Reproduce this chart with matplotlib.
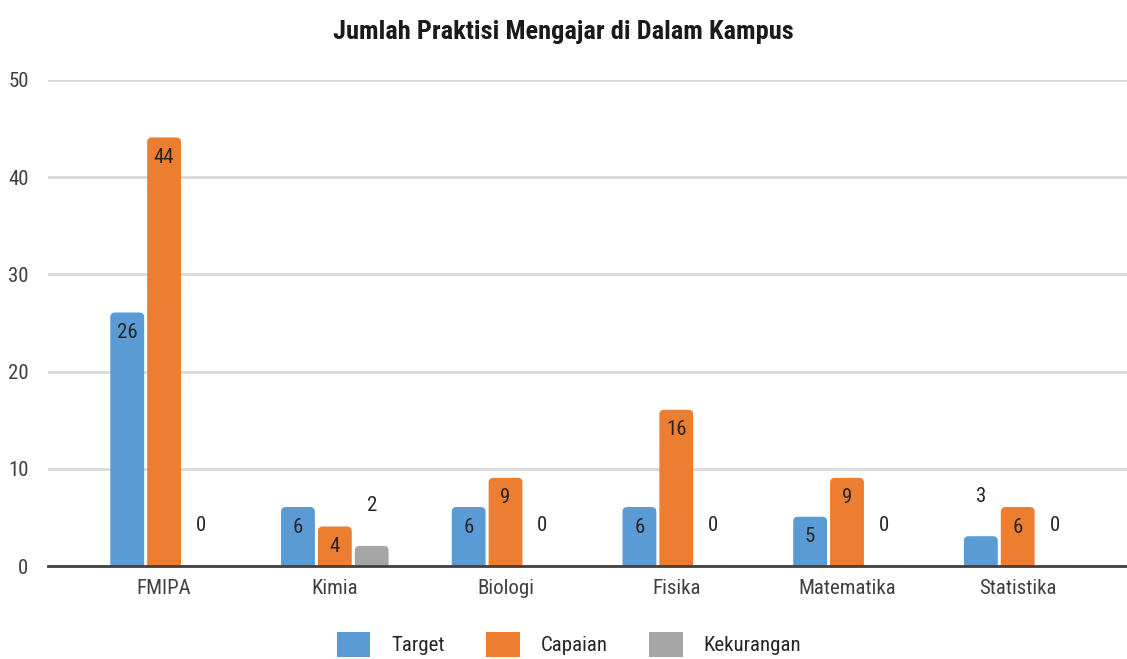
import numpy as np
import matplotlib
matplotlib.use('Agg')
import matplotlib.pyplot as plt
from matplotlib import font_manager
from matplotlib.patches import FancyBboxPatch

categories = ['FMIPA', 'Kimia', 'Biologi', 'Fisika', 'Matematika', 'Statistika']
target = [26, 6, 6, 6, 5, 3]
capaian = [44, 4, 9, 16, 9, 6]
kekurangan = [0, 2, 0, 0, 0, 0]
series_names = ['Target', 'Capaian', 'Kekurangan']
colors = ['#5B9BD5', '#ED7D31', '#A5A5A5']

names = {f.name for f in font_manager.fontManager.ttflist}
font = 'DejaVu Sans'
for cand in ['Roboto Condensed', 'Liberation Sans Narrow', 'DejaVu Sans Condensed']:
    if cand in names:
        font = cand
        break
plt.rcParams['font.family'] = [font, 'DejaVu Sans']

fig = plt.figure(figsize=(11.27, 6.59), dpi=100)
ax = fig.add_axes([0.0426, 0.141, 0.9574, 0.738])

x = np.arange(len(categories))
width = 0.19
offsets = [-0.216, 0, 0.216]

for vals, off, col, name in zip([target, capaian, kekurangan], offsets, colors, series_names):
    bars = ax.bar(x + off, vals, width, color=col, label=name, zorder=3)
    for b, v in zip(bars, vals):
        # swap the square bar for a rounded one of the same size
        b.set_visible(False)
        rp = FancyBboxPatch((b.get_x(), -1), b.get_width(), b.get_height() + 1,
                            boxstyle='round,pad=0,rounding_size=0.024',
                            mutation_aspect=17, color=col, zorder=3, clip_on=True)
        ax.add_patch(rp)
        if v >= 4:
            ax.text(b.get_x() + b.get_width() / 2, v - 2.0, str(v), ha='center', va='center',
                    fontsize=15, color='#262626', zorder=4)
        else:
            ax.text(b.get_x() + b.get_width() / 2, v + 4.2, str(v), ha='center', va='center',
                    fontsize=15, color='#262626', zorder=4)

ax.set_xlim(-0.68, 5.64)
ax.set_ylim(0, 50)
ax.set_yticks(range(0, 51, 10))
ax.set_xticks(x)
ax.set_xticklabels(categories)
ax.tick_params(axis='both', length=0, labelsize=15, colors='#404040')
ax.tick_params(axis='y', pad=14)
ax.tick_params(axis='x', pad=9)
ax.grid(axis='y', color='#D9D9D9', linewidth=2, zorder=0)
for s in ['top', 'right', 'left']:
    ax.spines[s].set_visible(False)
ax.spines['bottom'].set_color('#404040')
ax.spines['bottom'].set_linewidth(2)
ax.spines['bottom'].set_zorder(5)

fig.suptitle('Jumlah Praktisi Mengajar di Dalam Kampus', y=0.97, fontsize=19,
             fontweight='bold', color='#1a1a1a')

handles, labels = ax.get_legend_handles_labels()
leg = fig.legend(handles, labels, loc='center', bbox_to_anchor=(0.505, 0.022), ncol=3,
                 frameon=False, fontsize=15, handlelength=1.6, handleheight=1.4,
                 columnspacing=2.0, handletextpad=1.0)
for h in leg.legend_handles:
    h.set_visible(True)
for t in leg.get_texts():
    t.set_color('#262626')

fig.savefig('out.png', dpi=100)
